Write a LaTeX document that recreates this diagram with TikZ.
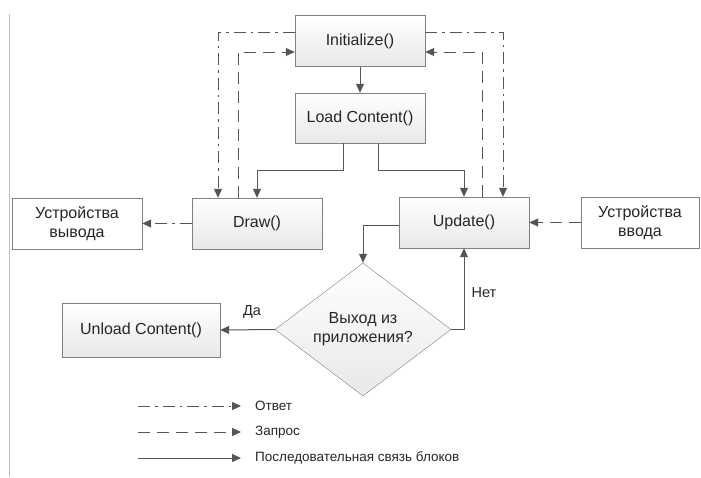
\documentclass[tikz,border=0pt]{standalone}
\usepackage{fontspec}
\setmainfont{Liberation Sans}
\usetikzlibrary{shapes.geometric,arrows.meta}

\definecolor{boxline}{HTML}{808080}
\definecolor{conline}{HTML}{555555}
\definecolor{txt}{HTML}{262626}

\tikzset{
  block/.style={draw=boxline, top color=white, bottom color=gray!18, text=txt,
    minimum width=130pt, minimum height=51pt, inner sep=2pt, align=center,
    font=\fontsize{16}{19}\selectfont},
  devbox/.style={block, fill=white, top color=white, bottom color=white},
  decision/.style={diamond, draw=boxline, top color=white, bottom color=gray!18,
    text=txt, minimum width=176pt, minimum height=105pt, inner sep=0pt, align=center,
    font=\fontsize{16}{19}\selectfont},
  seq/.style={draw=conline, line width=1pt, -{Triangle[length=9pt,width=8pt]}},
  req/.style={seq, dash pattern=on 12pt off 7pt},
  resp/.style={seq, dash pattern=on 12pt off 5pt on 2.5pt off 5pt},
  lbl/.style={text=txt, inner sep=0pt, font=\fontsize{14.5}{17}\selectfont},
  legtext/.style={text=txt, inner sep=0pt, anchor=west, font=\fontsize{13.5}{16}\selectfont}
}

\begin{document}
\begin{tikzpicture}[x=1pt, y=-1pt]
	\useasboundingbox (0,0) rectangle (701,477);
	\draw[gray!50, line width=1pt] (9.5,14) -- (9.5,477);

	\node[block] (init) at (360,41) {Initialize()};
	\node[block, minimum height=50pt] (load) at (360,118) {Load Content()};
	\node[block] (draw) at (257,223.5) {Draw()};
	\node[devbox] (out) at (77,223.5) {Устройства\\вывода};
	\node[block] (update) at (464,222.5) {Update()};
	\node[devbox, minimum width=118pt] (in) at (640,222.5) {Устройства\\ввода};
	\node[block, minimum width=158pt, minimum height=54pt] (unload) at (141,330) {Unload Content()};
	\node[decision] (exit) at (363,329.5) {Выход из\\приложения?};

	% sequence
	\draw[seq] (init) -- (load);
	\draw[seq] ([xshift=-17pt]load.south) -- ++(0,27) -| (draw.north);
	\draw[seq] ([xshift=18pt]load.south) -- ++(0,27) -| (update.north);
	\draw[seq] ([yshift=-3pt]update.west) -| (exit.north);
	\draw[seq] (exit.east) -| (update.south);
	\draw[seq] (exit.west) -- (unload.east);
	\node[lbl] (yes) at (252,312) {Да};
	\node[lbl] (no) at (484,293) {Нет};

	% response / request
	\draw[resp] ([yshift=9pt]init.west) -| ([xshift=-39pt]draw.north);
	\draw[resp] ([yshift=9pt]init.east) -| ([xshift=39pt]update.north);
	\draw[req] ([xshift=-19pt]draw.north) |- ([yshift=-11pt]init.west);
	\draw[req] ([xshift=18pt]update.north) |- ([yshift=-11pt]init.east);
	\draw[resp] (draw) -- (out);
	\draw[req] (in) -- (update);

	% legend
	\coordinate (r1) at (138,406);
	\coordinate (r2) at (138,432);
	\coordinate (r3) at (138,458);
	\node[legtext] (t1) at (255,406) {Ответ};
	\node[legtext] (t2) at (255,432) {Запрос};
	\node[legtext] (t3) at (255,458) {Последовательная связь блоков};
	\draw[resp] (r1) -- ([xshift=-14pt]t1.west);
	\draw[req] (r2) -- ([xshift=-14pt]t2.west);
	\draw[seq] (r3) -- ([xshift=-14pt]t3.west);
\end{tikzpicture}
\end{document}
